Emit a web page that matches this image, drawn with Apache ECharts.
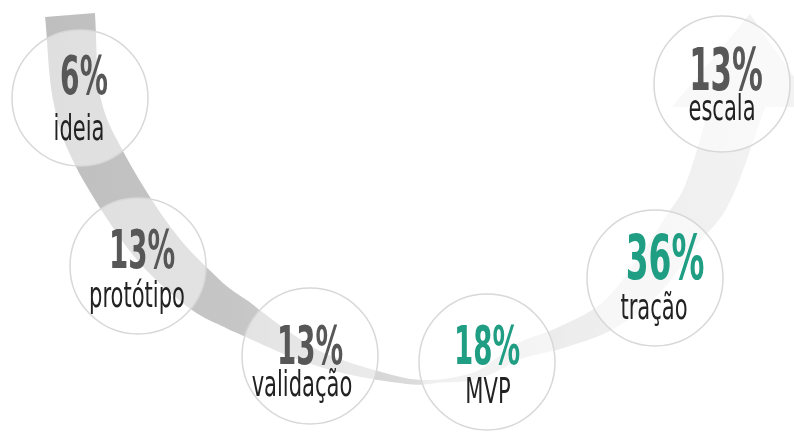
<!DOCTYPE html>
<html>
<head>
<meta charset="utf-8">
<script src="https://cdn.jsdelivr.net/npm/echarts@6/dist/echarts.min.js"></script>
<style>
  html, body { margin: 0; padding: 0; background: #fff; }
  #chart { width: 794px; height: 432px; }
</style>
</head>
<body>
<div id="chart"></div>
<script>
// etapas e percentuais
const stages = ['ideia', 'protótipo', 'validação', 'MVP', 'tração', 'escala']
const shares = [6, 13, 13, 18, 36, 13]
const highlighted = ['MVP', 'tração']

// layout dos circulos (px, mesmo sistema dos eixos)
const nodeX = [80, 138, 310, 487, 655, 722]
const nodeY = [98, 266, 356, 362, 278, 84]
const nodeR = 68
const pctSize = [54, 53, 53, 53, 63, 59]
const pctDx = [4, 4, 0, 0, 10, 4]
const pctDy = [-18, -12, -6, -12, -15, -9]
const labDx = [-1, -1, -8, 1, -1, 0]
const labDy = [33, 32, 31, 32, 32, 27]

// eixo central da seta curva e largura
const spineX = [70, 77, 100, 151, 200, 240, 317, 400, 440, 480, 520, 560, 608, 646, 682, 709, 740]
const spineY = [15, 100, 160, 240, 290, 316, 358, 380, 381, 374, 351, 338, 316, 280, 230, 190, 98]
const spineW = [50, 47, 49, 47, 42, 34, 15, 6, 3, 8, 16, 21, 28, 38, 42, 48, 54]
const headPts = [[672, 107], [750, 14], [815, 107]]

const fontFam = "'DejaVu Sans Condensed', 'Liberation Sans Narrow', sans-serif"

function ribbon () {
  let n = spineX.length
  let P = spineX.map((x, i) => [x, spineY[i]])
  let get = k => {
    if (k < 0) return [2 * P[0][0] - P[1][0], 2 * P[0][1] - P[1][1]]
    if (k >= n) return [2 * P[n - 1][0] - P[n - 2][0], 2 * P[n - 1][1] - P[n - 2][1]]
    return P[k]
  }
  let sideA = []
  let sideB = []
  let steps = 16
  for (let i = 0; i < n - 1; i++) {
    let p0 = get(i - 1), p1 = get(i), p2 = get(i + 1), p3 = get(i + 2)
    let last = i === n - 2 ? steps : steps - 1
    for (let s = 0; s <= last; s++) {
      let t = s / steps
      let pt = [0, 1].map(d => 0.5 * (2 * p1[d] + (-p0[d] + p2[d]) * t +
        (2 * p0[d] - 5 * p1[d] + 4 * p2[d] - p3[d]) * t * t +
        (-p0[d] + 3 * p1[d] - 3 * p2[d] + p3[d]) * t * t * t))
      let tg = [0, 1].map(d => 0.5 * ((-p0[d] + p2[d]) +
        2 * (2 * p0[d] - 5 * p1[d] + 4 * p2[d] - p3[d]) * t +
        3 * (-p0[d] + 3 * p1[d] - 3 * p2[d] + p3[d]) * t * t))
      let len = Math.sqrt(tg[0] * tg[0] + tg[1] * tg[1]) || 1
      let nx = -tg[1] / len, ny = tg[0] / len
      let w = (spineW[i] + (spineW[i + 1] - spineW[i]) * t) / 2
      sideA.push([pt[0] + nx * w, pt[1] + ny * w])
      sideB.push([pt[0] - nx * w, pt[1] - ny * w])
    }
  }
  return sideA.concat(sideB.reverse())
}

let myChart = echarts.init(document.getElementById('chart'))
let bandFill = new echarts.graphic.LinearGradient(0, 0, 794, 0, [
  { offset: 0, color: '#bdbdbd' },
  { offset: 0.3, color: '#c6c6c6' },
  { offset: 0.45, color: '#d3d3d3' },
  { offset: 0.58, color: '#e3e3e3' },
  { offset: 0.72, color: '#ededed' },
  { offset: 1, color: '#f3f3f3' }
], true)

let option = {
  animation: false,
  backgroundColor: '#fff',
  grid: { left: 0, right: 0, top: 0, bottom: 0 },
  xAxis: { type: 'value', min: 0, max: 794, show: false },
  yAxis: { type: 'value', min: 0, max: 432, inverse: true, show: false },
  series: [
    {
      type: 'custom',
      silent: true,
      data: [[0, 0]],
      renderItem (params, api) {
        let body = ribbon().map(p => api.coord(p))
        let head = headPts.map(p => api.coord(p))
        return {
          type: 'group',
          children: [
            { type: 'polygon', shape: { points: body }, style: { fill: bandFill } },
            { type: 'polygon', shape: { points: head }, style: { fill: bandFill } }
          ]
        }
      }
    },
    {
      type: 'custom',
      data: stages.map((s, i) => [nodeX[i], nodeY[i], shares[i]]),
      encode: { x: 0, y: 1 },
      renderItem (params, api) {
        let i = params.dataIndex
        let c = api.coord([api.value(0), api.value(1)])
        let hot = highlighted.indexOf(stages[i]) > -1
        return {
          type: 'group',
          children: [
            {
              type: 'circle',
              shape: { cx: c[0], cy: c[1], r: nodeR },
              style: { fill: 'rgba(255,255,255,0.5)', stroke: '#d8d8d8', lineWidth: 1.5 }
            },
            {
              type: 'text',
              x: c[0] + pctDx[i],
              y: c[1] + pctDy[i],
              scaleX: 0.58,
              style: {
                text: api.value(2) + '%',
                fill: hot ? '#1f9e83' : '#575757',
                fontFamily: fontFam,
                fontWeight: 'bold',
                fontSize: pctSize[i],
                align: 'center',
                verticalAlign: 'middle'
              }
            },
            {
              type: 'text',
              x: c[0] + labDx[i],
              y: c[1] + labDy[i],
              scaleX: 0.65,
              style: {
                text: stages[i],
                fill: '#222',
                fontFamily: fontFam,
                fontSize: 36,
                align: 'center',
                verticalAlign: 'middle'
              }
            }
          ]
        }
      }
    }
  ]
}
myChart.setOption(option, true)
</script>
</body>
</html>
